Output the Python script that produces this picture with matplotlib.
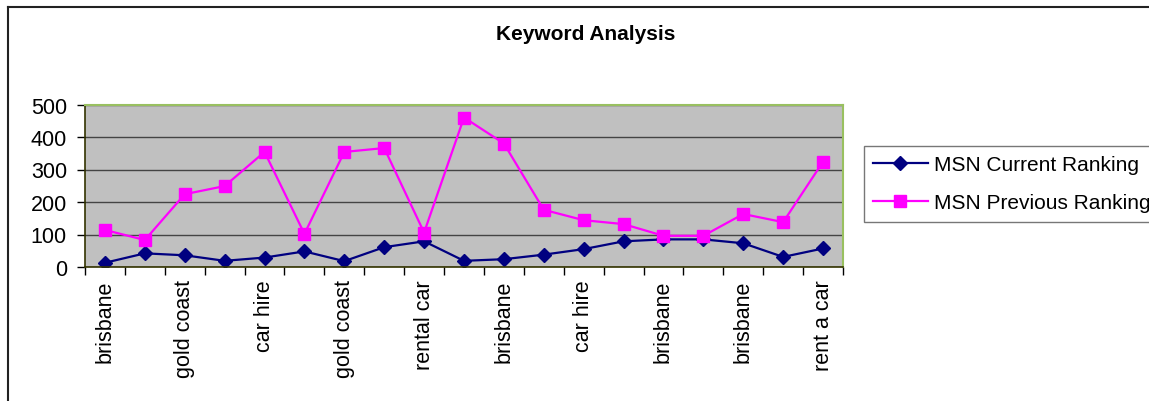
import matplotlib.pyplot as plt
import numpy as np
from matplotlib.lines import Line2D

plt.rcParams['font.family'] = ['Liberation Sans', 'DejaVu Sans']

# keyword per position (only every other one is labelled on the axis)
keywords = ['brisbane', '', 'gold coast', '', 'car hire', '', 'gold coast', '',
            'rental car', '', 'brisbane', '', 'car hire', '', 'brisbane', '',
            'brisbane', '', 'rent a car']
current_rank = [13, 42, 36, 19, 29, 48, 18, 61, 79, 19, 24, 38, 55, 79, 85, 85, 73, 31, 57]
previous_rank = [114, 83, 224, 249, 354, 102, 354, 366, 106, 460, 380, 176, 144, 132,
                 96, 96, 163, 138, 324]

W, H = 1149, 402
fig = plt.figure(figsize=(W / 100, H / 100), dpi=100)

# chart area border (runs off the right edge like the original)
fig.add_artist(Line2D([8 / W, 1.0], [1 - 7.5 / H] * 2, color='#222222', lw=1.5))
fig.add_artist(Line2D([8 / W] * 2, [1 - 7.5 / H, 0.0], color='#222222', lw=1.5))

ax = fig.add_axes([85 / W, 1 - 268 / H, (843 - 85) / W, (268 - 105.5) / H])
ax.set_facecolor('#C0C0C0')

x = np.arange(len(keywords))
ax.plot(x, current_rank, color='#000080', lw=1.6, marker='D', markersize=7,
        label='MSN Current Ranking')
ax.plot(x, previous_rank, color='#FF00FF', lw=1.6, marker='s', markersize=8.5,
        label='MSN Previous Ranking')

ax.set_xlim(-0.5, len(keywords) - 0.5)
ax.set_ylim(0, 500)
ax.set_yticks(range(0, 501, 100))
ax.grid(axis='y', color='#444444', lw=1.0)
ax.set_axisbelow(True)

# ticks between categories, labels at categories
ax.set_xticks(np.arange(-0.5, len(keywords), 1.0))
ax.set_xticklabels([])
ax.set_xticks(x, minor=True)
ax.set_xticklabels(keywords, minor=True, rotation=90, va='top', fontsize=15.5)
ax.tick_params(axis='x', which='minor', length=0, pad=9)
ax.tick_params(axis='x', which='major', length=6, width=1, direction='out')
ax.tick_params(axis='y', length=6, width=1, direction='out', labelsize=15.5, pad=7)

for side in ['top', 'right']:
    ax.spines[side].set_color('#99C060')
    ax.spines[side].set_linewidth(1.5)
for side in ['left', 'bottom']:
    ax.spines[side].set_color('#333300')
    ax.spines[side].set_linewidth(1.2)

fig.text(586 / W, 1 - 35 / H, 'Keyword Analysis', ha='center', va='center',
         fontsize=15, fontweight='bold')

leg = fig.legend(loc='upper left', bbox_to_anchor=(864 / W, 1 - 147 / H),
                 fontsize=15, frameon=True, fancybox=False, borderpad=0.45,
                 handlelength=2.6, handletextpad=0.3, labelspacing=0.9,
                 borderaxespad=0)
leg.get_frame().set_edgecolor('#555555')
leg.get_frame().set_linewidth(1.0)

fig.savefig('out.png', dpi=100)
